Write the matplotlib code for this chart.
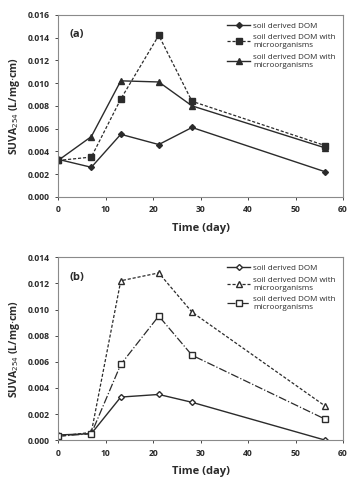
import matplotlib
matplotlib.use("Agg")
import matplotlib.pyplot as plt

plt.rcParams['font.family'] = ['Open Sans', 'DejaVu Sans']

# sampling days
days = [0, 7, 13.2, 21.2, 28.2, 56.3]

# panel (a)
a_dom = [0.0033, 0.0026, 0.0055, 0.0046, 0.0061, 0.0022]
a_micro1 = [0.0032, 0.0035, 0.0086, 0.0142, 0.0084, 0.0045]
a_micro2 = [0.0032, 0.0053, 0.0102, 0.0101, 0.0080, 0.0043]

# panel (b)
b_dom = [0.0004, 0.0005, 0.0033, 0.0035, 0.0029, 0.0000]
b_micro1 = [0.0003, 0.0006, 0.0122, 0.0128, 0.0098, 0.0026]
b_micro2 = [0.0003, 0.0005, 0.0058, 0.0095, 0.0065, 0.0016]

lbl_dom = "soil derived DOM"
lbl_micro = "soil derived DOM with\nmicroorganisms"

ink = '#2b2b2b'
frame = '#8a8a8a'

fig = plt.figure(figsize=(3.5, 4.79), dpi=100)
ax1 = fig.add_axes([0.166, 0.589, 0.814, 0.380])
ax2 = fig.add_axes([0.166, 0.081, 0.814, 0.382])

# (a)
ax1.plot(days, a_dom, '-', color=ink, lw=1.0, marker='D', ms=3, label=lbl_dom)
ax1.plot(days, a_micro1, '--', color=ink, lw=0.9, marker='s', ms=4.5, dashes=(2.5, 1.5), label=lbl_micro)
ax1.plot(days, a_micro2, '-', color=ink, lw=1.0, marker='^', ms=4.5, label=lbl_micro)
ax1.set_ylim(0, 0.016)
ax1.set_yticks([0.000, 0.002, 0.004, 0.006, 0.008, 0.010, 0.012, 0.014, 0.016])
ax1.text(0.04, 0.92, '(a)', transform=ax1.transAxes, fontsize=8, fontweight='bold', color=ink, va='top')

# (b)
ax2.plot(days, b_dom, '-', color=ink, lw=1.0, marker='D', ms=3, mfc='white', label=lbl_dom)
ax2.plot(days, b_micro1, '--', color=ink, lw=0.9, marker='^', ms=4.5, mfc='white', dashes=(2.5, 1.5), label=lbl_micro)
ax2.plot(days, b_micro2, '-.', color=ink, lw=0.9, marker='s', ms=4.5, mfc='white', label=lbl_micro)
ax2.set_ylim(0, 0.014)
ax2.set_yticks([0.000, 0.002, 0.004, 0.006, 0.008, 0.010, 0.012, 0.014])
ax2.text(0.04, 0.92, '(b)', transform=ax2.transAxes, fontsize=8, fontweight='bold', color=ink, va='top')

for ax in (ax1, ax2):
    ax.set_xlim(0, 60)
    ax.set_xticks([0, 10, 20, 30, 40, 50, 60])
    ax.set_yticklabels([f"{v:.3f}" for v in ax.get_yticks()])
    ax.tick_params(labelsize=6.2, colors=ink, length=2.5, width=0.6, direction='out')
    for lab in ax.get_xticklabels() + ax.get_yticklabels():
        lab.set_fontweight('bold')
    for s in ax.spines.values():
        s.set_color(frame)
        s.set_linewidth(0.8)
    ax.set_xlabel('Time (day)', fontsize=8, fontweight='bold', color=ink, labelpad=6)
    ax.set_ylabel('SUVA$_{254}$ (L/mg$\\cdot$cm)', fontsize=7.5, fontweight='bold', color=ink, labelpad=4)
    leg = ax.legend(loc='upper right', fontsize=5.8, frameon=False, handlelength=2.8,
                    labelspacing=0.55, borderaxespad=0.5, handletextpad=0.4)
    for t in leg.get_texts():
        t.set_color(ink)

fig.savefig('out.png', dpi=100)
